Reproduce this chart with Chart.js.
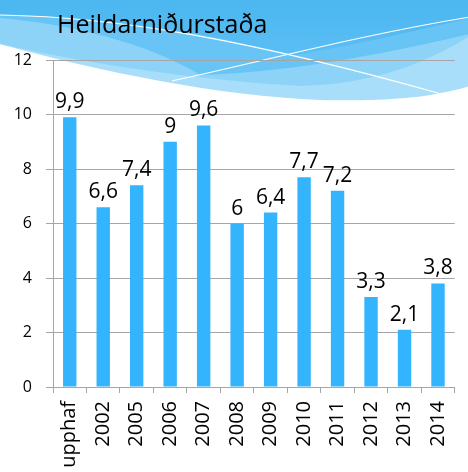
<!DOCTYPE html>
<html>
<head>
<meta charset="utf-8">
<script src="https://cdn.jsdelivr.net/npm/chart.js@4.4.0/dist/chart.umd.min.js"></script>
<style>
  html, body { margin: 0; padding: 0; background: #ffffff; overflow: hidden; }
  #wrap { position: relative; width: 470px; height: 472px; }
</style>
</head>
<body>
<div id="wrap"><canvas id="c" width="470" height="472"></canvas></div>
<script>
const categories = ['Í upphaf', '2002', '2005', '2006', '2007', '2008', '2009', '2010', '2011', '2012', '2013', '2014'];
const values = [9.9, 6.6, 7.4, 9, 9.6, 6, 6.4, 7.7, 7.2, 3.3, 2.1, 3.8];
const yTicks = [0, 2, 4, 6, 8, 10, 12];
const chartTitle = 'Heildarniðurstaða';

const FONT = '"Open Sans", Lato, sans-serif';

const backgroundPlugin = {
  id: 'waves',
  beforeDraw(chart) {
    const ctx = chart.ctx;
    ctx.save();
    // lightest band (bottom boundary -> white)
    ctx.beginPath();
    ctx.moveTo(0, 0);
    ctx.lineTo(0, 44);
    ctx.bezierCurveTo(100, 72, 220, 96, 320, 100);
    ctx.bezierCurveTo(400, 102, 440, 95, 470, 86);
    ctx.lineTo(470, 0);
    ctx.closePath();
    ctx.fillStyle = '#a9defa';
    ctx.fill();
    // light band
    ctx.beginPath();
    ctx.moveTo(0, 0);
    ctx.lineTo(0, 44);
    ctx.bezierCurveTo(100, 66, 200, 80, 300, 86);
    ctx.bezierCurveTo(380, 84, 430, 60, 470, 36);
    ctx.lineTo(470, 0);
    ctx.closePath();
    ctx.fillStyle = '#8dd3f8';
    ctx.fill();
    // medium band
    ctx.beginPath();
    ctx.moveTo(0, 0);
    ctx.lineTo(0, 18);
    ctx.bezierCurveTo(90, 26, 160, 50, 200, 75);
    ctx.bezierCurveTo(300, 72, 400, 50, 470, 34);
    ctx.lineTo(470, 0);
    ctx.closePath();
    ctx.fillStyle = '#67c4f5';
    ctx.fill();
    // top darker
    ctx.beginPath();
    ctx.moveTo(0, 0);
    ctx.lineTo(0, 15);
    ctx.bezierCurveTo(120, 18, 220, 35, 290, 56);
    ctx.bezierCurveTo(350, 46, 420, 30, 470, 18);
    ctx.lineTo(470, 0);
    ctx.closePath();
    const g = ctx.createLinearGradient(0, 0, 0, 60);
    g.addColorStop(0, '#4bb6f0');
    g.addColorStop(1, '#5cbff4');
    ctx.fillStyle = g;
    ctx.fill();
    // white lines
    ctx.strokeStyle = '#ffffff';
    ctx.lineWidth = 1.2;
    ctx.beginPath();
    ctx.moveTo(0, 15);
    ctx.bezierCurveTo(120, 17, 250, 40, 445, 95);
    ctx.stroke();
    ctx.beginPath();
    ctx.moveTo(172, 81);
    ctx.bezierCurveTo(260, 62, 360, 35, 470, 17);
    ctx.stroke();
    // title
    ctx.fillStyle = '#000000';
    ctx.font = '25px ' + FONT;
    ctx.textAlign = 'left';
    ctx.textBaseline = 'alphabetic';
    ctx.fillText(chartTitle, 57, 33);
    ctx.restore();
  }
};

const labelPlugin = {
  id: 'valueLabels',
  afterDatasetsDraw(chart) {
    const ctx = chart.ctx;
    const meta = chart.getDatasetMeta(0);
    ctx.save();
    ctx.fillStyle = '#000000';
    ctx.font = '21px ' + FONT;
    ctx.textAlign = 'center';
    ctx.textBaseline = 'alphabetic';
    meta.data.forEach((bar, i) => {
      const txt = String(values[i]).replace('.', ',');
      ctx.fillText(txt, bar.x, bar.y - 9);
    });
    ctx.restore();
  }
};

new Chart(document.getElementById('c'), {
  type: 'bar',
  data: {
    labels: categories,
    datasets: [{
      data: values,
      backgroundColor: '#33b4fc',
      borderWidth: 0,
      categoryPercentage: 1,
      barPercentage: 0.4
    }]
  },
  options: {
    responsive: false,
    animation: false,
    layout: { padding: { top: 60, right: 0, left: 0, bottom: 0 } },
    plugins: { legend: { display: false }, tooltip: { enabled: false } },
    scales: {
      x: {
        grid: { display: true, drawOnChartArea: false, drawTicks: true, tickLength: 6, color: '#a6a6a6', offset: true },
        border: { color: '#a6a6a6', width: 1 },
        ticks: {
          color: '#000000', font: { family: FONT, size: 20 },
          minRotation: 90, maxRotation: 90, autoSkip: false, padding: 8
        },
        afterFit(scale) { scale.height = 85; }
      },
      y: {
        min: 0, max: 12,
        afterBuildTicks(scale) { scale.ticks = yTicks.map(v => ({ value: v })); },
        grid: { color: '#a6a6a6', tickLength: 7, drawTicks: true },
        border: { color: '#a6a6a6', width: 1 },
        ticks: { color: '#000000', font: { family: FONT, size: 16 }, padding: 14 },
        afterFit(scale) { scale.width = 53; }
      }
    }
  },
  plugins: [backgroundPlugin, labelPlugin]
});
</script>
</body>
</html>
